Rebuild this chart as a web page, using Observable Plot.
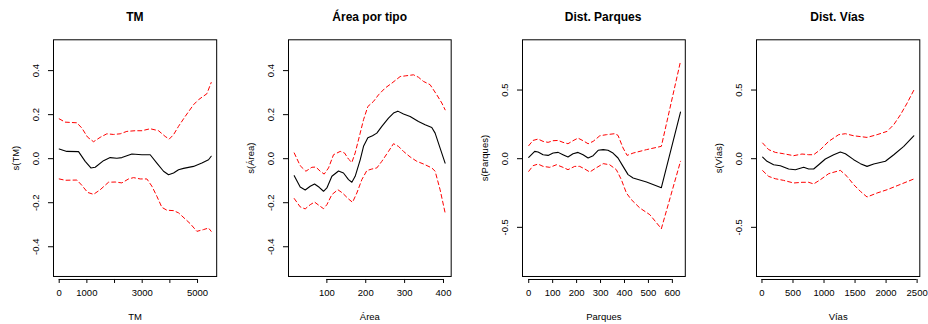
<!DOCTYPE html>
<html><head><meta charset="utf-8">
<script src="https://cdn.jsdelivr.net/npm/d3@7"></script>
<script src="https://cdn.jsdelivr.net/npm/@observablehq/plot@0.6"></script>
<style>
body{margin:0;background:#fff;}
#root{position:relative;width:928px;height:324px;font-family:"Liberation Sans",Arial,sans-serif;}
.panel{position:absolute;top:0;}
.title{position:absolute;top:10px;font-weight:bold;font-size:12px;line-height:14px;text-align:center;color:#000;white-space:nowrap;}
</style></head><body><div id="root"></div>
<script>
// ---- Panel titles and axis labels
const titles = ["TM", "Área por tipo", "Dist. Parques", "Dist. Vías"];
const xLabels = ["TM", "Área", "Parques", "Vías"];
const yLabels = ["s(TM)", "s(Área)", "s(Parques)", "s(Vías)"];

// ---- Tick values and labels
const tmXTicks = [0, 1000, 2000, 3000, 4000, 5000];
const tmXTickLabels = ["0", "1000", "", "3000", "", "5000"];
const areaXTicks = [100, 200, 300, 400];
const areaXTickLabels = ["100", "200", "300", "400"];
const parqXTicks = [0, 100, 200, 300, 400, 500, 600];
const parqXTickLabels = ["0", "100", "200", "300", "400", "500", "600"];
const viasXTicks = [0, 500, 1000, 1500, 2000, 2500];
const viasXTickLabels = ["0", "500", "1000", "1500", "2000", "2500"];
const yTicksSmall = [-0.4, -0.2, 0, 0.2, 0.4];
const yTickLabelsSmall = ["-0.4", "-0.2", "0.0", "0.2", "0.4"];
const yTicksLarge = [-0.5, 0, 0.5];
const yTickLabelsLarge = ["-0.5", "0.0", "0.5"];

// ---- TM
const tmFitX = [0,277,699,940,1145,1301,1602,1843,2084,2265,2627,2988,3289,3530,3771,3952,4133,4313,4494,4855,5157,5398,5494];
const tmFitY = [0.044,0.033,0.032,-0.012,-0.042,-0.039,-0.009,0.005,0.002,0.005,0.021,0.018,0.018,-0.020,-0.057,-0.073,-0.065,-0.050,-0.044,-0.035,-0.020,-0.005,0.011];
const tmUpX = [0,217,639,819,1024,1241,1482,1723,1964,2205,2446,2747,2988,3289,3590,3831,3976,4133,4313,4554,4855,5036,5337,5494];
const tmUpY = [0.181,0.166,0.163,0.139,0.098,0.077,0.097,0.113,0.110,0.113,0.124,0.127,0.127,0.136,0.127,0.101,0.089,0.109,0.147,0.192,0.245,0.268,0.295,0.346];
const tmLoX = [0,217,639,819,1024,1241,1482,1783,2024,2265,2506,2687,2928,3169,3350,3531,3711,3892,4133,4314,4555,4735,4977,5218,5398,5494];
const tmLoY = [-0.092,-0.098,-0.097,-0.121,-0.153,-0.162,-0.141,-0.107,-0.106,-0.110,-0.092,-0.086,-0.092,-0.092,-0.125,-0.171,-0.221,-0.234,-0.236,-0.246,-0.274,-0.295,-0.330,-0.322,-0.315,-0.330];

// ---- Área por tipo
const areaFitX = [16,31.4,44.3,57.2,68.3,80.3,91.4,100,112.9,130,142.8,155.7,164.3,172.8,185.7,194.3,205.4,217.4,228.5,241.4,258.5,271.4,282.5,297.1,314.2,335.6,352.8,369.9,378.5,391.3,404.2];
const areaFitY = [-0.077,-0.129,-0.142,-0.125,-0.115,-0.130,-0.148,-0.133,-0.080,-0.056,-0.065,-0.095,-0.107,-0.080,-0.005,0.056,0.095,0.104,0.116,0.147,0.184,0.207,0.216,0.203,0.192,0.169,0.154,0.142,0.116,0.048,-0.020];
const areaUpX = [16,31.4,46,61.4,71.7,82.9,93.1,104.3,117.1,134.3,145.4,155.7,164.3,172.8,185.7,194.3,205.4,220,232.8,250,267.1,288.5,301.4,322.8,335.6,348.5,365.6,382.8,395.6,404.2];
const areaUpY = [0.026,-0.032,-0.057,-0.039,-0.038,-0.057,-0.070,-0.042,0.018,0.033,0.026,-0.002,-0.017,0.026,0.116,0.177,0.237,0.260,0.290,0.321,0.343,0.373,0.376,0.381,0.370,0.351,0.336,0.290,0.253,0.222];
const areaLoX = [16,31.4,44.3,57.2,68.3,80.3,91.4,100,112.9,128.3,140.3,155.7,166,177.1,190,202.8,215.7,228.5,241.4,258.5,271.4,284.2,297.1,314.2,331.4,348.5,369.9,378.5,391.3,404.2];
const areaLoY = [-0.181,-0.219,-0.228,-0.209,-0.197,-0.213,-0.227,-0.209,-0.163,-0.141,-0.156,-0.183,-0.198,-0.156,-0.095,-0.054,-0.047,-0.042,-0.012,0.033,0.068,0.056,0.033,0.008,-0.012,-0.024,-0.042,-0.057,-0.141,-0.246];

// ---- Dist. Parques
const parqFitX = [0,25,39,60,81,102,123,143,164,185,206,227,248,269,290,311,331,352,373,394,415,436,492,554,634];
const parqFitY = [0.010,0.053,0.049,0.029,0.024,0.041,0.046,0.029,0.012,0.036,0.046,0.029,0.005,0.022,0.061,0.066,0.061,0.041,0.005,-0.056,-0.116,-0.141,-0.170,-0.211,0.340];
const parqUpX = [0,18,39,60,81,102,123,143,164,185,206,227,248,269,297,325,359,373,394,411,436,492,554,634];
const parqUpY = [0.095,0.133,0.143,0.126,0.119,0.131,0.133,0.119,0.109,0.131,0.150,0.131,0.109,0.126,0.167,0.175,0.182,0.170,0.078,0.024,0.041,0.066,0.090,0.709];
const parqLoX = [0,18,39,60,88,116,143,164,192,213,234,255,276,311,338,366,387,408,429,464,506,554,634];
const parqLoY = [-0.092,-0.051,-0.039,-0.056,-0.063,-0.044,-0.063,-0.080,-0.056,-0.056,-0.075,-0.097,-0.073,-0.036,-0.044,-0.080,-0.153,-0.250,-0.299,-0.359,-0.408,-0.510,-0.019];

// ---- Dist. Vías
const viasFitX = [11,81,188,296,430,538,618,672,753,833,914,1021,1156,1263,1344,1478,1586,1693,1801,1989,2124,2285,2446];
const viasFitY = [0.012,-0.019,-0.044,-0.051,-0.075,-0.080,-0.070,-0.063,-0.075,-0.075,-0.044,-0.002,0.029,0.049,0.036,-0.007,-0.036,-0.056,-0.039,-0.019,0.029,0.090,0.167];
const viasUpX = [11,108,215,349,511,645,753,833,941,1075,1236,1344,1478,1693,1855,2016,2124,2231,2339,2446];
const viasUpY = [0.114,0.066,0.046,0.036,0.022,0.034,0.029,0.029,0.066,0.126,0.175,0.182,0.167,0.155,0.175,0.199,0.248,0.320,0.405,0.498];
const viasLoX = [11,108,215,349,511,645,753,833,941,1075,1263,1371,1478,1586,1693,1855,2016,2177,2446];
const viasLoY = [-0.087,-0.129,-0.146,-0.158,-0.177,-0.172,-0.172,-0.184,-0.153,-0.109,-0.085,-0.129,-0.189,-0.238,-0.279,-0.250,-0.226,-0.197,-0.148];

// ---- assemble panels (layout: scale domains and frame positions)
const panels = [
  {fit:[tmFitX,tmFitY], up:[tmUpX,tmUpY], lo:[tmLoX,tmLoY], xTicks:tmXTicks, xTickLabels:tmXTickLabels, yTicks:yTicksSmall, yTickLabels:yTickLabelsSmall, xDomain:[-206,5692], yDomain:[-0.535,0.54], left:53.3, right:216.5},
  {fit:[areaFitX,areaFitY], up:[areaUpX,areaUpY], lo:[areaLoX,areaLoY], xTicks:areaXTicks, xTickLabels:areaXTickLabels, yTicks:yTicksSmall, yTickLabels:yTickLabelsSmall, xDomain:[1.3,419.8], yDomain:[-0.535,0.54], left:288.3, right:451},
  {fit:[parqFitX,parqFitY], up:[parqUpX,parqUpY], lo:[parqLoX,parqLoY], xTicks:parqXTicks, xTickLabels:parqXTickLabels, yTicks:yTicksLarge, yTickLabels:yTickLabelsLarge, xDomain:[-26,654], yDomain:[-0.858,0.866], left:521.7, right:684.5},
  {fit:[viasFitX,viasFitY], up:[viasUpX,viasUpY], lo:[viasLoX,viasLoY], xTicks:viasXTicks, xTickLabels:viasXTickLabels, yTicks:yTicksLarge, yTickLabels:yTickLabelsLarge, xDomain:[-88,2543], yDomain:[-0.858,0.866], left:755.7, right:919}
];

const rows = ([xs, ys]) => xs.map((x, i) => ({x, y: ys[i]}));
const root = document.getElementById("root");
const ML = 53, MR = 4, MT = 39.3, MB = 48;

panels.forEach((p, i) => {
  const fw = p.right - p.left;
  const div = document.createElement("div");
  div.className = "panel";
  div.style.left = (p.left - ML) + "px";
  div.style.width = (ML + fw + MR) + "px";
  const chart = Plot.plot({
    width: ML + fw + MR,
    height: 324,
    marginLeft: ML, marginRight: MR, marginTop: MT, marginBottom: MB,
    style: {fontFamily: "'Liberation Sans', Arial, sans-serif", fontSize: "9.5px", color: "#000", background: "transparent", overflow: "visible"},
    x: {domain: p.xDomain},
    y: {domain: p.yDomain},
    marks: [
      Plot.frame({stroke: "#000", strokeWidth: 1}),
      Plot.axisY({ticks: p.yTicks, tickFormat: d => p.yTickLabels[p.yTicks.indexOf(d)], tickSize: 5, tickPadding: 10, tickRotate: -90,
        label: yLabels[i], labelAnchor: "center", labelOffset: 41, labelArrow: "none", fontSize: 9.5}),
      Plot.axisX({ticks: p.xTicks, tickFormat: d => p.xTickLabels[p.xTicks.indexOf(d)], tickSize: 4, tickPadding: 6, dy: 3,
        label: xLabels[i], labelAnchor: "center", labelOffset: 43.5, labelArrow: "none", fontSize: 9.5}),
      Plot.ruleY([p.yDomain[0]], {x1: p.xTicks[0], x2: p.xTicks[p.xTicks.length - 1], dy: 3, stroke: "#000"}),
      Plot.line(rows(p.up), {x: "x", y: "y", stroke: "#ff0000", strokeWidth: 1, strokeDasharray: "4,3"}),
      Plot.line(rows(p.lo), {x: "x", y: "y", stroke: "#ff0000", strokeWidth: 1, strokeDasharray: "4,3"}),
      Plot.line(rows(p.fit), {x: "x", y: "y", stroke: "#000", strokeWidth: 1.1})
    ]
  });
  div.appendChild(chart);
  root.appendChild(div);
  const t = document.createElement("div");
  t.className = "title";
  t.style.left = p.left + "px";
  t.style.width = fw + "px";
  t.textContent = titles[i];
  root.appendChild(t);
});
</script>
</body></html>
